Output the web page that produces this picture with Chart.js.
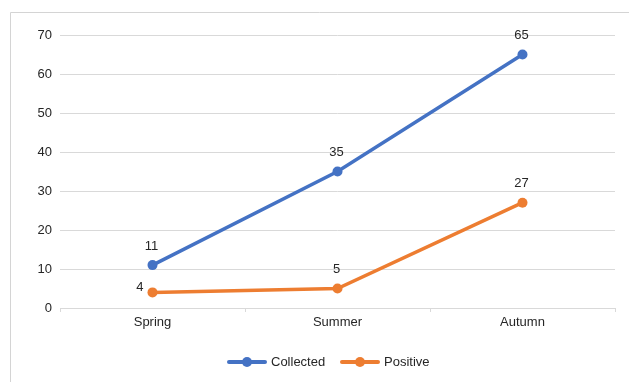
<!DOCTYPE html>
<html>
<head>
<meta charset="utf-8">
<script src="https://cdn.jsdelivr.net/npm/chart.js@4.4.1/dist/chart.umd.min.js"></script>
<style>
  html, body { margin: 0; padding: 0; background: #fff; }
  #wrap { width: 629px; height: 382px; position: relative; }
</style>
</head>
<body>
<div id="wrap"><canvas id="c" width="629" height="382"></canvas></div>
<script>
// Seasonal sample counts
const seasons = ['Spring', 'Summer', 'Autumn'];
const collected = [11, 35, 65];
const positive = [4, 5, 27];
const yTicks = [0, 10, 20, 30, 40, 50, 60, 70];
// where each value label sits relative to its point
const collectedLabelSide = ['above', 'above', 'above'];
const positiveLabelSide = ['left', 'above', 'above'];

const BLUE = '#4472C4';
const ORANGE = '#ED7D31';
const FONT = "'Liberation Sans', Arial, sans-serif";
const TEXT = '#262626';
const GRID = '#d9d9d9';

// Outer frame (left and top edges) behind the chart
const framePlugin = {
  id: 'frame',
  beforeDraw(chart) {
    const ctx = chart.ctx;
    ctx.save();
    ctx.fillStyle = '#fff';
    ctx.fillRect(0, 0, chart.width, chart.height);
    ctx.strokeStyle = '#d4d4d4';
    ctx.lineWidth = 1;
    ctx.beginPath();
    ctx.moveTo(10.5, chart.height);
    ctx.lineTo(10.5, 12.5);
    ctx.lineTo(chart.width, 12.5);
    ctx.stroke();
    ctx.restore();
  }
};

// Value labels next to every point
const valueLabels = {
  id: 'valueLabels',
  afterDatasetsDraw(chart) {
    const ctx = chart.ctx;
    ctx.save();
    ctx.font = '13px ' + FONT;
    ctx.fillStyle = TEXT;
    chart.data.datasets.forEach((ds, i) => {
      const meta = chart.getDatasetMeta(i);
      meta.data.forEach((pt, j) => {
        const side = ds.labelSide[j];
        const txt = String(ds.data[j]);
        if (side === 'left') {
          ctx.textAlign = 'right';
          ctx.textBaseline = 'middle';
          ctx.fillText(txt, pt.x - 9, pt.y - 5);
        } else {
          ctx.textAlign = 'center';
          ctx.textBaseline = 'middle';
          ctx.fillText(txt, pt.x - 1, pt.y - 19);
        }
      });
    });
    ctx.restore();
  }
};

// Legend along the bottom: line with a dot, then the series name
const bottomLegend = {
  id: 'bottomLegend',
  afterDraw(chart) {
    const ctx = chart.ctx;
    ctx.save();
    ctx.font = '13px ' + FONT;
    const y = 362;
    const starts = [229, 342];
    chart.data.datasets.forEach((ds, i) => {
      const x0 = starts[i];
      ctx.strokeStyle = ds.borderColor;
      ctx.lineWidth = 4;
      ctx.lineCap = 'round';
      ctx.beginPath();
      ctx.moveTo(x0, y);
      ctx.lineTo(x0 + 36, y);
      ctx.stroke();
      ctx.fillStyle = ds.borderColor;
      ctx.beginPath();
      ctx.arc(x0 + 18, y, 5, 0, Math.PI * 2);
      ctx.fill();
      ctx.fillStyle = TEXT;
      ctx.textAlign = 'left';
      ctx.textBaseline = 'middle';
      ctx.fillText(ds.label, x0 + 42, y);
    });
    ctx.restore();
  }
};

new Chart(document.getElementById('c'), {
  type: 'line',
  data: {
    labels: seasons,
    datasets: [
      {
        label: 'Collected',
        data: collected,
        labelSide: collectedLabelSide,
        borderColor: BLUE,
        backgroundColor: BLUE,
        borderWidth: 3.5,
        pointRadius: 5,
        pointBorderWidth: 0,
        tension: 0
      },
      {
        label: 'Positive',
        data: positive,
        labelSide: positiveLabelSide,
        borderColor: ORANGE,
        backgroundColor: ORANGE,
        borderWidth: 3.5,
        pointRadius: 5,
        pointBorderWidth: 0,
        tension: 0
      }
    ]
  },
  options: {
    responsive: false,
    animation: false,
    devicePixelRatio: 1,
    layout: { padding: { top: 35, right: 14, bottom: 0, left: 0 } },
    plugins: {
      legend: { display: false },
      tooltip: { enabled: false }
    },
    scales: {
      x: {
        offset: true,
        grid: {
          offset: true,
          drawOnChartArea: false,
          drawTicks: true,
          tickLength: 4,
          color: GRID
        },
        border: { display: true, color: GRID, width: 1 },
        ticks: {
          color: TEXT,
          font: { family: FONT, size: 13 },
          padding: 3,
          maxRotation: 0
        },
        afterFit(scale) { scale.height = 74; }
      },
      y: {
        min: 0,
        max: 70,
        afterBuildTicks(scale) { scale.ticks = yTicks.map(v => ({ value: v })); },
        grid: { color: GRID, drawTicks: false, lineWidth: 1 },
        border: { display: false },
        ticks: {
          color: TEXT,
          font: { family: FONT, size: 13 },
          padding: 8
        },
        afterFit(scale) { scale.width = 60; }
      }
    }
  },
  plugins: [framePlugin, valueLabels, bottomLegend]
});
</script>
</body>
</html>
